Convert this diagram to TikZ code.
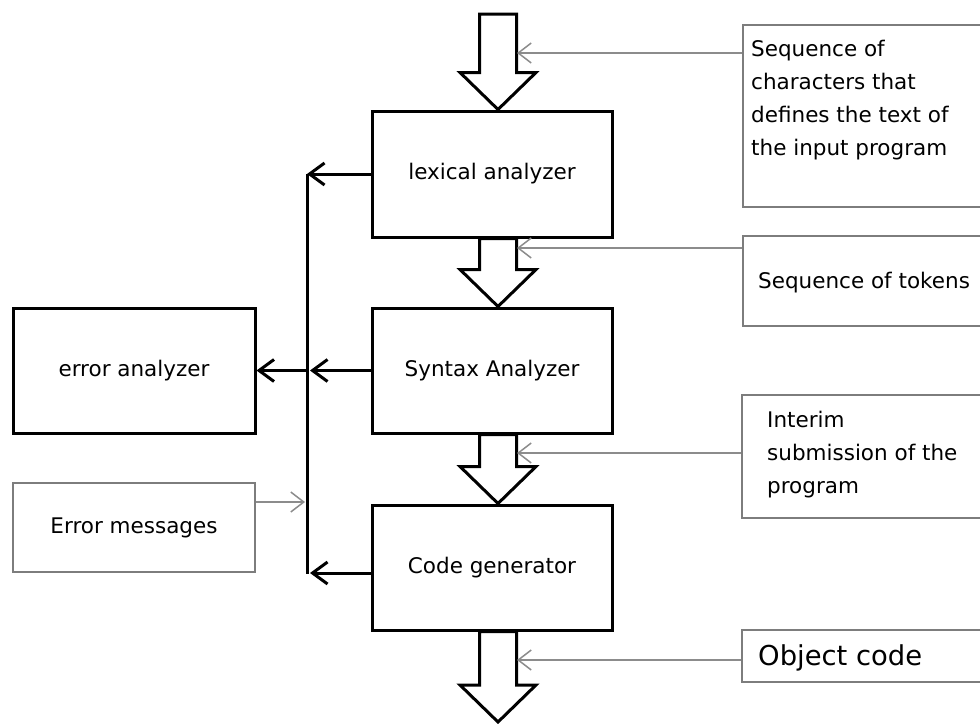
\documentclass[tikz,border=0pt]{standalone}
\usepackage{fontspec}
\setmainfont{DejaVu Sans}
\usetikzlibrary{arrows.meta,calc}
\definecolor{gbox}{RGB}{125,125,125}
\definecolor{garr}{RGB}{140,140,140}
\tikzset{
  mainbox/.style={draw=black, line width=3pt, fill=white, inner sep=0pt, font=\fontsize{21.5}{26}\selectfont},
  greybox/.style={draw=gbox, line width=2pt, fill=white, inner sep=0pt},
  labeltext/.style={inner sep=0pt, align=left, font=\fontsize{21.5}{33}\selectfont},
  blockarrow/.style={draw=black, line width=3pt, fill=white, line join=miter},
  blkarr/.style={draw=black, line width=3pt, -{Straight Barb[length=15pt,width=22pt]}},
  gryarr/.style={draw=garr, line width=1.5pt, -{Straight Barb[length=13pt,width=20pt]}},
  busline/.style={draw=black, line width=3pt},
}
\newcommand{\blockarr}[2]{%
  \draw[blockarrow] ($(#1)+(-18.5,0)$) -- ($(#2)+(-18.5,-37)$) -- ($(#2)+(-38,-37)$) -- (#2)
    -- ($(#2)+(38,-37)$) -- ($(#2)+(18.5,-37)$) -- ($(#1)+(18.5,0)$) -- cycle;}
\begin{document}
\begin{tikzpicture}[x=1pt,y=-1pt]
\useasboundingbox (0,0) rectangle (980,723);
\clip (0,0) rectangle (980,723);
\fill[white] (0,0) rectangle (980,723);

% main boxes
\node[mainbox, minimum width=240pt, minimum height=126pt] (lex) at (492,174) {lexical analyzer};
\node[mainbox, minimum width=240pt, minimum height=125pt] (syn) at (492,370.5) {Syntax Analyzer};
\node[mainbox, minimum width=240pt, minimum height=125pt] (code) at (492,567.5) {Code generator};
\node[mainbox, minimum width=242pt, minimum height=125pt] (errana) at (134,370.5) {error analyzer};
\node[greybox, minimum width=242pt, minimum height=89pt, font=\fontsize{21.5}{26}\selectfont] (errm) at (134,527.5) {Error messages};

% right boxes
\node[greybox, minimum width=257pt, minimum height=182pt] (seqc) at (871.5,116) {};
\node[labeltext, anchor=north west] (seqct) at (751,40) {Sequence of\\characters that\\defines the text of\\the input program};
\node[greybox, minimum width=257pt, minimum height=90pt] (tok) at (871.5,281) {};
\node[labeltext, anchor=base west] (tokt) at (758,288) {Sequence of tokens};
\node[greybox, minimum width=258pt, minimum height=123pt] (intr) at (871,456.5) {};
\node[labeltext, anchor=north west] (intrt) at (767,410.5) {Interim\\submission of the\\program};
\node[greybox, minimum width=258pt, minimum height=52pt] (obj) at (871,656) {};
\node[inner sep=0pt, anchor=base west, font=\fontsize{27.4}{32}\selectfont] (objt) at (758,665) {Object code};

% block arrows
\coordinate (a0) at (498,14);
\coordinate (a4) at (498,722);
\blockarr{a0}{$(lex.north)+(6,0)$}
\blockarr{$(lex.south)+(6,0)$}{$(syn.north)+(6,0)$}
\blockarr{$(syn.south)+(6,0)$}{$(code.north)+(6,0)$}
\blockarr{$(code.south)+(6,0)$}{a4}

% gray input arrows
\coordinate (in1) at (517,53);
\coordinate (in2) at (517,248);
\coordinate (in3) at (517,453);
\coordinate (in4) at (517,660);
\draw[gryarr] (seqc.west |- in1) -- (in1);
\draw[gryarr] (tok.west |- in2) -- (in2);
\draw[gryarr] (intr.west |- in3) -- (in3);
\draw[gryarr] (obj.west |- in4) -- (in4);

% error bus
\coordinate (busT) at (307,174);
\coordinate (busB) at (307,574);
\draw[busline] (busT) -- (busB);
\draw[blkarr] (lex.west) -- (lex.west -| busT);
\draw[blkarr] (syn.west) -- ($(syn.west -| busT)+(3,0)$);
\draw[blkarr] (syn.west -| busT) -- (errana.east);
\draw[blkarr] ($(code.west)+(0,5.5)$) -- ($(code.west -| busT)+(3,5.5)$);
\draw[gryarr] ($(errm.north east)+(0,20)$) -- ($(errm.north east -| busT)+(-2,20)$);
\end{tikzpicture}
\end{document}
